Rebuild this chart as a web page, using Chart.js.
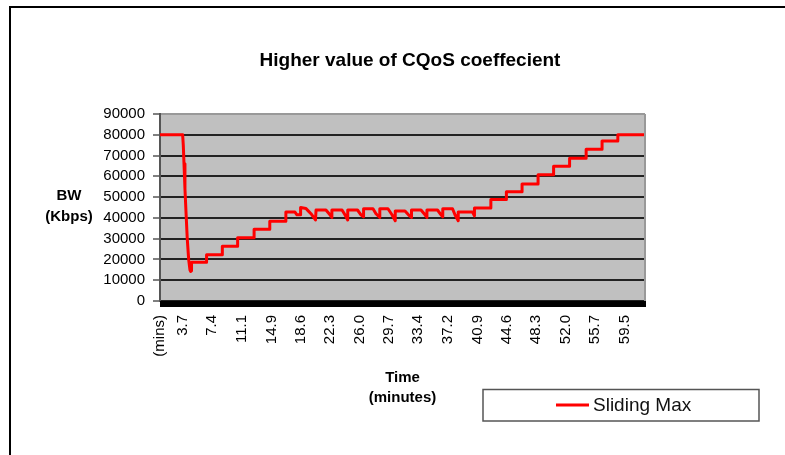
<!DOCTYPE html>
<html>
<head>
<meta charset="utf-8">
<title>Higher value of CQoS coeffecient</title>
<script src="https://cdn.jsdelivr.net/npm/chart.js@4.4.0/dist/chart.umd.min.js"></script>
<style>
  body { margin: 0; background: #fff; overflow: hidden; }
  #wrap { position: relative; width: 785px; height: 455px; overflow: hidden; }
  #frame { position: absolute; left: 9px; top: 6px; width: 800px; height: 480px; border-left: 2px solid #000; border-top: 2px solid #000; }
  canvas { position: absolute; left: 0; top: 0; }
</style>
</head>
<body>
<div id="wrap">
  <div id="frame"></div>
  <canvas id="myChart" width="785" height="455"></canvas>
</div>
<script>
// time (minutes) and sliding max (Kbps)
const times = [
  0.8, 3.66, 3.74, 3.83, 3.95, 4.08, 4.24, 4.42, 4.58, 4.67, 4.78, 4.78,
  6.68, 6.68, 8.67, 8.67, 10.6, 10.6, 12.68, 12.68, 14.66, 14.66, 16.69, 16.69,
  17.84, 18.09, 18.55, 18.55, 19.23, 19.48, 19.86, 20.43, 20.5,
  21.75, 22.26, 22.5, 22.5, 23.78, 24.15, 24.5, 24.5,
  25.73, 26.17, 26.5, 26.5, 27.69, 28.07, 28.55, 28.55,
  29.58, 30.09, 30.5, 30.5, 31.73, 32.17, 32.55, 32.55,
  33.75, 34.26, 34.5, 34.5, 35.83, 36.28, 36.5, 36.5,
  37.73, 38.04, 38.45, 38.45, 40.25, 40.5, 40.5,
  42.57, 42.57, 44.53, 44.53, 46.51, 46.51, 48.53, 48.53, 50.49, 50.49,
  52.51, 52.51, 54.6, 54.6, 56.61, 56.61, 58.6, 58.6, 62.03
];
const slidingMax = [
  80000, 80000, 75000, 66000, 54000, 43000, 30000, 20000, 15000, 14200, 14500, 18700,
  18700, 22300, 22300, 26300, 26300, 30500, 30500, 34500, 34500, 38400, 38400, 42800,
  42800, 41500, 41500, 45000, 44500, 43500, 42000, 39000, 43800,
  43800, 41500, 40200, 43800, 43800, 41500, 39000, 43800,
  43800, 41500, 40500, 44400, 44400, 42000, 40200, 44400,
  44400, 41500, 38600, 43300, 43300, 41500, 40200, 43800,
  43800, 41500, 40200, 43800, 43800, 41500, 40500, 44400,
  44400, 41500, 38600, 42800, 42800, 41000, 44800,
  44800, 48800, 48800, 52600, 52600, 56300, 56300, 60800, 60800, 64800,
  64800, 68700, 68700, 73000, 73000, 77000, 77000, 80000, 80000
];

const tickMinutes = [0.8, 3.7, 7.4, 11.1, 14.9, 18.6, 22.3, 26.0, 29.7, 33.4, 37.2, 40.9, 44.6, 48.3, 52.0, 55.7, 59.5];
const tickLabels = ["(mins)", "3.7", "7.4", "11.1", "14.9", "18.6", "22.3", "26.0", "29.7", "33.4", "37.2", "40.9", "44.6", "48.3", "52.0", "55.7", "59.5"];

const points = [];
for (let i = 0; i < times.length; i++) {
  points.push({ x: times[i], y: slidingMax[i] });
}

Chart.defaults.font.family = "'Liberation Sans', Arial, sans-serif";
Chart.defaults.color = "#000";

// grey plot area, black axis band, title, BW label and legend box
const decor = {
  id: "decor",
  beforeDraw(chart) {
    const { ctx, chartArea: a } = chart;
    ctx.save();
    ctx.fillStyle = "#c0c0c0";
    ctx.fillRect(a.left, a.top, a.right - a.left, a.bottom - a.top);
    ctx.restore();
  },
  afterDraw(chart) {
    const { ctx, chartArea: a } = chart;
    ctx.save();
    ctx.fillStyle = "#000";
    ctx.fillRect(a.left, a.bottom, a.right - a.left + 1, 6);

    ctx.strokeStyle = "#999";
    ctx.lineWidth = 2;
    ctx.beginPath();
    ctx.moveTo(a.right, a.top);
    ctx.lineTo(a.right, a.bottom);
    ctx.stroke();

    ctx.fillStyle = "#000";
    ctx.textAlign = "center";
    ctx.textBaseline = "middle";
    ctx.font = "bold 19px 'Liberation Sans', Arial, sans-serif";
    ctx.fillText("Higher value of CQoS coeffecient", 410, 61);

    ctx.font = "bold 15px 'Liberation Sans', Arial, sans-serif";
    ctx.fillText("BW", 69, 196);
    ctx.fillText("(Kbps)", 69, 217);

    // legend
    ctx.strokeStyle = "#555";
    ctx.lineWidth = 1.5;
    ctx.strokeRect(483, 389.5, 276, 31.5);
    ctx.strokeStyle = "#ff0000";
    ctx.lineWidth = 3;
    ctx.beginPath();
    ctx.moveTo(556, 405);
    ctx.lineTo(589, 405);
    ctx.stroke();
    ctx.fillStyle = "#111";
    ctx.textAlign = "left";
    ctx.textBaseline = "alphabetic";
    ctx.font = "19px 'Liberation Sans', Arial, sans-serif";
    ctx.fillText(chart.data.datasets[0].label, 593, 411);
    ctx.restore();
  }
};

const ctx = document.getElementById("myChart").getContext("2d");
const myChart = new Chart(ctx, {
  type: "line",
  data: {
    datasets: [
      {
        label: "Sliding Max",
        data: points,
        borderColor: "#ff0000",
        borderWidth: 3,
        borderJoinStyle: "round",
        pointRadius: 0,
        tension: 0,
        fill: false,
      },
    ],
  },
  options: {
    responsive: false,
    animation: false,
    devicePixelRatio: 1,
    layout: { padding: { top: 114, right: 140, bottom: 0, left: 0 } },
    plugins: {
      legend: { display: false },
      title: { display: false },
      tooltip: { enabled: false },
    },
    scales: {
      x: {
        type: "linear",
        min: 0.8,
        max: 62.03,
        afterBuildTicks: (s) => {
          s.ticks = tickMinutes.map((v) => ({ value: v }));
        },
        afterFit: (s) => {
          s.height = 154;
        },
        ticks: {
          autoSkip: false,
          minRotation: 90,
          maxRotation: 90,
          padding: 14,
          font: { size: 15 },
          callback: (v, i) => tickLabels[i],
        },
        grid: { display: false, drawTicks: false },
        border: { display: false },
        title: {
          display: true,
          text: ["Time", "(minutes)"],
          font: { size: 15, weight: "bold", lineHeight: 1.333 },
          padding: { top: 0, bottom: 47 },
        },
      },
      y: {
        min: 0,
        max: 90000,
        afterFit: (s) => {
          s.width = 160;
        },
        ticks: {
          stepSize: 10000,
          autoSkip: false,
          padding: 8,
          font: { size: 15 },
          callback: (v) => String(v),
        },
        grid: {
          color: (c) => (c.tick && c.tick.value === 90000 ? "#999" : "#222"),
          lineWidth: 2,
          tickColor: "#000",
          tickLength: 7,
          tickWidth: 1,
        },
        border: { color: "#555", width: 2 },
      },
    },
  },
  plugins: [decor],
});
</script>
</body>
</html>
